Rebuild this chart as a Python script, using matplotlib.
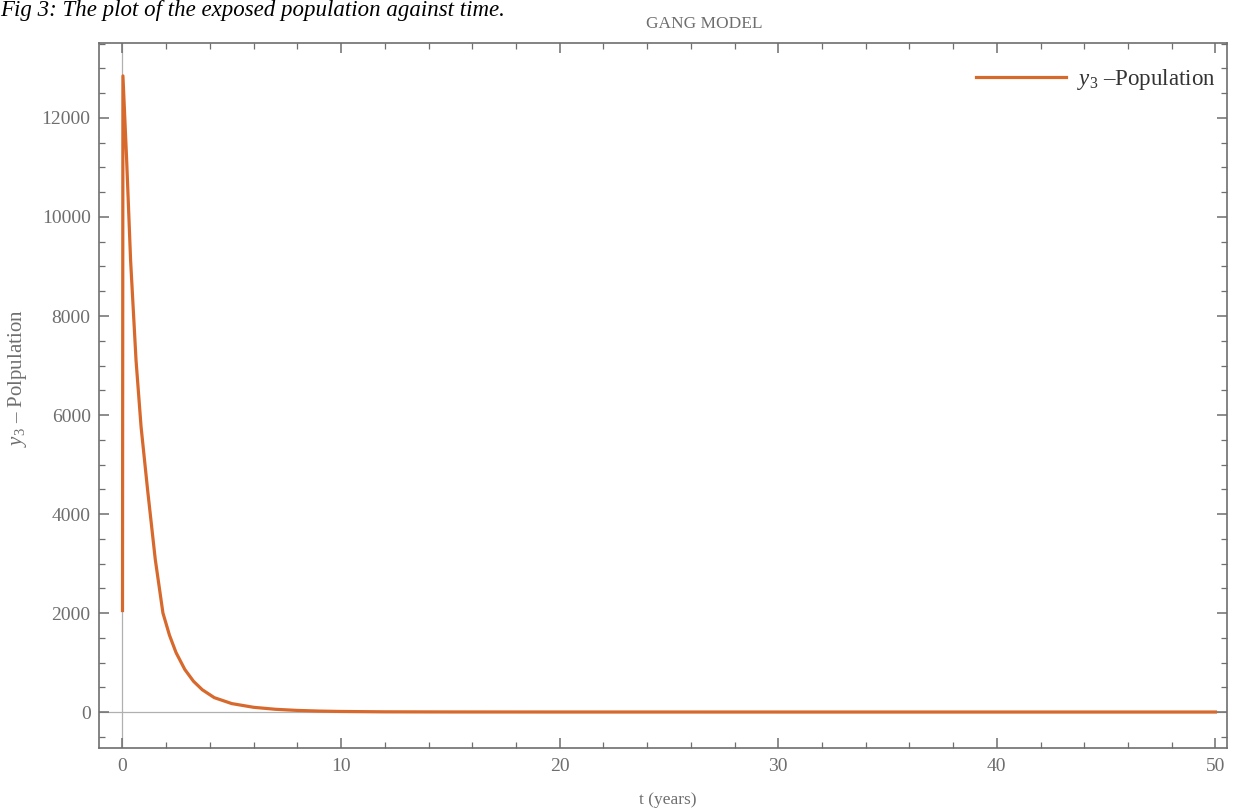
import matplotlib
matplotlib.use("Agg")
import matplotlib.pyplot as plt
from matplotlib.ticker import MultipleLocator

# Data
t_years = [0.0, 0.02, 0.19, 0.37, 0.62, 0.85, 1.15, 1.5, 1.85, 2.15, 2.45, 2.85, 3.25, 3.65, 4.2,
           5.0, 6.0, 7.0, 8.0, 9.0, 10.0, 12.0, 15.0, 20.0, 30.0, 40.0, 50.0]
y3_population = [2050, 12850, 11150, 9130, 7100, 5760, 4480, 3080, 2000, 1550, 1200, 860, 620,
                 450, 290, 170, 95, 55, 32, 19, 11, 4, 1.5, 0.5, 0, 0, 0]

title = "GANG MODEL"
caption = "Fig 3: The plot of the exposed population against time."
xlabel = "t (years)"
ylabel = r"$y_3$ – Polpulation"
legend_label = r"$\mathit{y}_3$ –Population"

line_color = "#d8692c"
gray = "#6e6e6e"

plt.rcParams["font.family"] = ["Liberation Serif", "DejaVu Serif"]
plt.rcParams["mathtext.fontset"] = "custom"
plt.rcParams["mathtext.rm"] = "Liberation Serif"
plt.rcParams["mathtext.it"] = "Liberation Serif:italic"

fig = plt.figure(figsize=(12.4, 8.11), dpi=100)
ax = fig.add_axes([99 / 1240, 1 - 748 / 811, (1227 - 99) / 1240, (748 - 43) / 811])

ax.axhline(0, color="#b0b0b0", lw=0.9, zorder=1)
ax.axvline(0, color="#b0b0b0", lw=0.9, zorder=1)
ax.plot(t_years, y3_population, color=line_color, lw=2.3, zorder=3, label=legend_label,
        solid_joinstyle="round")

ax.set_xlim(-1.075, 50.53)
ax.set_ylim(-727, 13515)

ax.xaxis.set_major_locator(MultipleLocator(10))
ax.xaxis.set_minor_locator(MultipleLocator(2))
ax.yaxis.set_major_locator(MultipleLocator(2000))
ax.yaxis.set_minor_locator(MultipleLocator(500))

ax.tick_params(which="both", direction="in", top=True, right=True, colors=gray,
               labelcolor=gray, labelsize=14)
ax.tick_params(which="major", length=7, width=1.1)
ax.tick_params(which="minor", length=4, width=0.9)
ax.tick_params(axis="x", pad=7)
ax.tick_params(axis="y", pad=6)
for s in ax.spines.values():
    s.set_color(gray)
    s.set_linewidth(1.2)

fig.text(668 / 1240, 1 - 800 / 811, xlabel, ha="center", va="center", color=gray, fontsize=12.5)
fig.text(18 / 1240, 1 - 378 / 811, ylabel, ha="center", va="center", rotation=90,
         color=gray, fontsize=15)
fig.text(704 / 1240, 1 - 24 / 811, title, ha="center", va="center", color=gray, fontsize=12.5)
fig.text(0.0, 1.0, caption, ha="left", va="top", color="black",
         fontsize=16.5, style="italic")

leg = ax.legend(loc="upper right", bbox_to_anchor=(0.990, 0.966), frameon=False,
                fontsize=16.5, handlelength=3.9, handletextpad=0.5, borderaxespad=0,
                borderpad=0)
for txt in leg.get_texts():
    txt.set_color("#333333")

fig.savefig("out.png", dpi=100)
